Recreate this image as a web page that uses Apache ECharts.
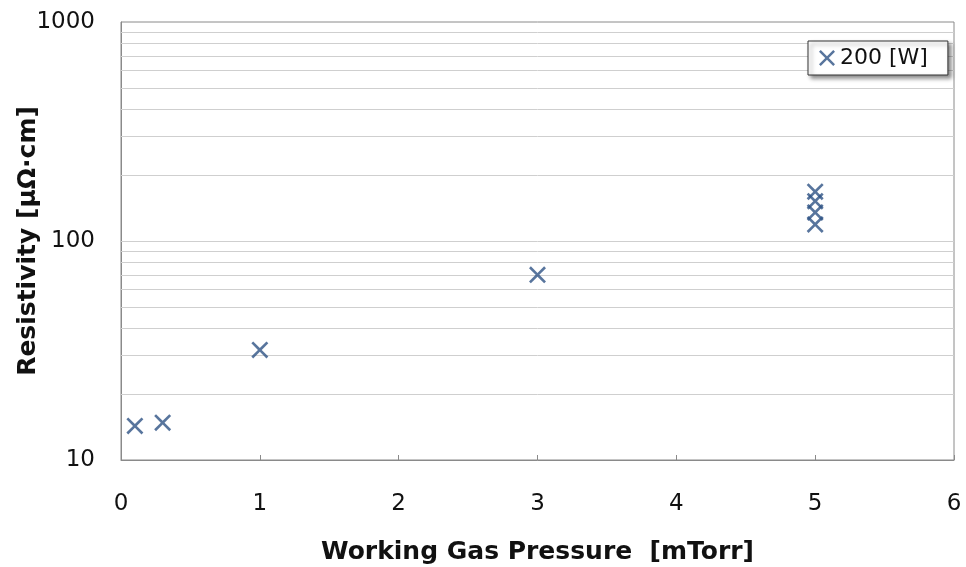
<!DOCTYPE html>
<html>
<head>
<meta charset="utf-8">
<script src="https://cdn.jsdelivr.net/npm/echarts@6/dist/echarts.min.js"></script>
<style>html,body{margin:0;padding:0;background:#fff}#c{width:966px;height:567px}</style>
</head>
<body>
<div id="c"></div>
<script>
const seriesName = '200 [W]';
const pressure = [0.1, 0.3, 1, 3, 5, 5, 5, 5];
const resistivity = [14.3, 14.8, 31.8, 70.1, 168, 152, 135, 119];
const xTicks = [0, 1, 2, 3, 4, 5, 6];
const yMajor = [10, 100, 1000];
const yMinorGrid = [20, 30, 40, 50, 60, 70, 80, 90, 200, 300, 400, 500, 600, 700, 800, 900, 100];

const crossPath = 'path://M0,1.1L1.1,0L5,3.9L8.9,0L10,1.1L6.1,5L10,8.9L8.9,10L5,6.1L1.1,10L0,8.9L3.9,5Z';
const markColor = '#2e5384';
const font = '"DejaVu Sans", sans-serif';

const chart = echarts.init(document.getElementById('c'), null, {renderer: 'canvas'});
chart.setOption({
  animation: false,
  backgroundColor: '#fff',
  grid: {left: 121, right: 12, top: 22, bottom: 107, containLabel: false, outerBoundsMode: 'none',
    show: true, borderColor: '#8a8a8a', borderWidth: 1, backgroundColor: 'transparent'},
  legend: {
    show: true, z: 20,
    left: 808, top: 41,
    data: [{name: seriesName, icon: crossPath}],
    itemWidth: 16, itemHeight: 16, itemGap: 0,
    padding: [6, 20, 6, 11],
    borderColor: '#333', borderWidth: 1,
    backgroundColor: '#fff',
    shadowColor: 'rgba(0,0,0,0.45)', shadowBlur: 4, shadowOffsetX: 3, shadowOffsetY: 3,
    textStyle: {fontFamily: font, fontSize: 22, color: '#111', textShadowBlur: 0, textShadowColor: 'transparent'}
  },
  xAxis: {
    type: 'value', min: 0, max: 6, interval: 1,
    name: 'Working Gas Pressure  [mTorr]', nameLocation: 'middle', nameGap: 80, nameMoveOverlap: false,
    nameTextStyle: {fontFamily: font, fontSize: 25, fontWeight: 'bold', color: '#111'},
    axisLine: {show: true, lineStyle: {color: '#8a8a8a', width: 1}},
    axisTick: {show: true, inside: true, length: 5, lineStyle: {color: '#8a8a8a'}},
    axisLabel: {fontFamily: font, fontSize: 23, color: '#111', margin: 33,
      formatter: v => xTicks.includes(v) ? String(v) : ''},
    splitLine: {show: false}
  },
  yAxis: {
    type: 'log', logBase: 10, min: 10, max: 1000,
    name: 'Resistivity [μΩ·cm]', nameLocation: 'middle', nameGap: 80, nameMoveOverlap: false,
    nameTextStyle: {fontFamily: font, fontSize: 25, fontWeight: 'bold', color: '#111'},
    axisLine: {show: true, lineStyle: {color: '#8a8a8a', width: 1}},
    axisTick: {show: false},
    axisLabel: {fontFamily: font, fontSize: 23, color: '#111', margin: 26,
      formatter: v => yMajor.includes(Math.round(v)) ? String(Math.round(v)) : ''},
    splitLine: {show: false}
  },
  series: [{
    name: seriesName,
    type: 'scatter',
    data: pressure.map((p, i) => [p, resistivity[i]]),
    symbol: crossPath,
    symbolSize: 17,
    itemStyle: {color: markColor},
    z: 5,
    markLine: {
      silent: true, symbol: 'none', label: {show: false},
      lineStyle: {color: '#cfcfcf', width: 1, type: 'solid'},
      data: yMinorGrid.map(v => ({yAxis: v}))
    }
  }]
});
</script>
</body>
</html>
